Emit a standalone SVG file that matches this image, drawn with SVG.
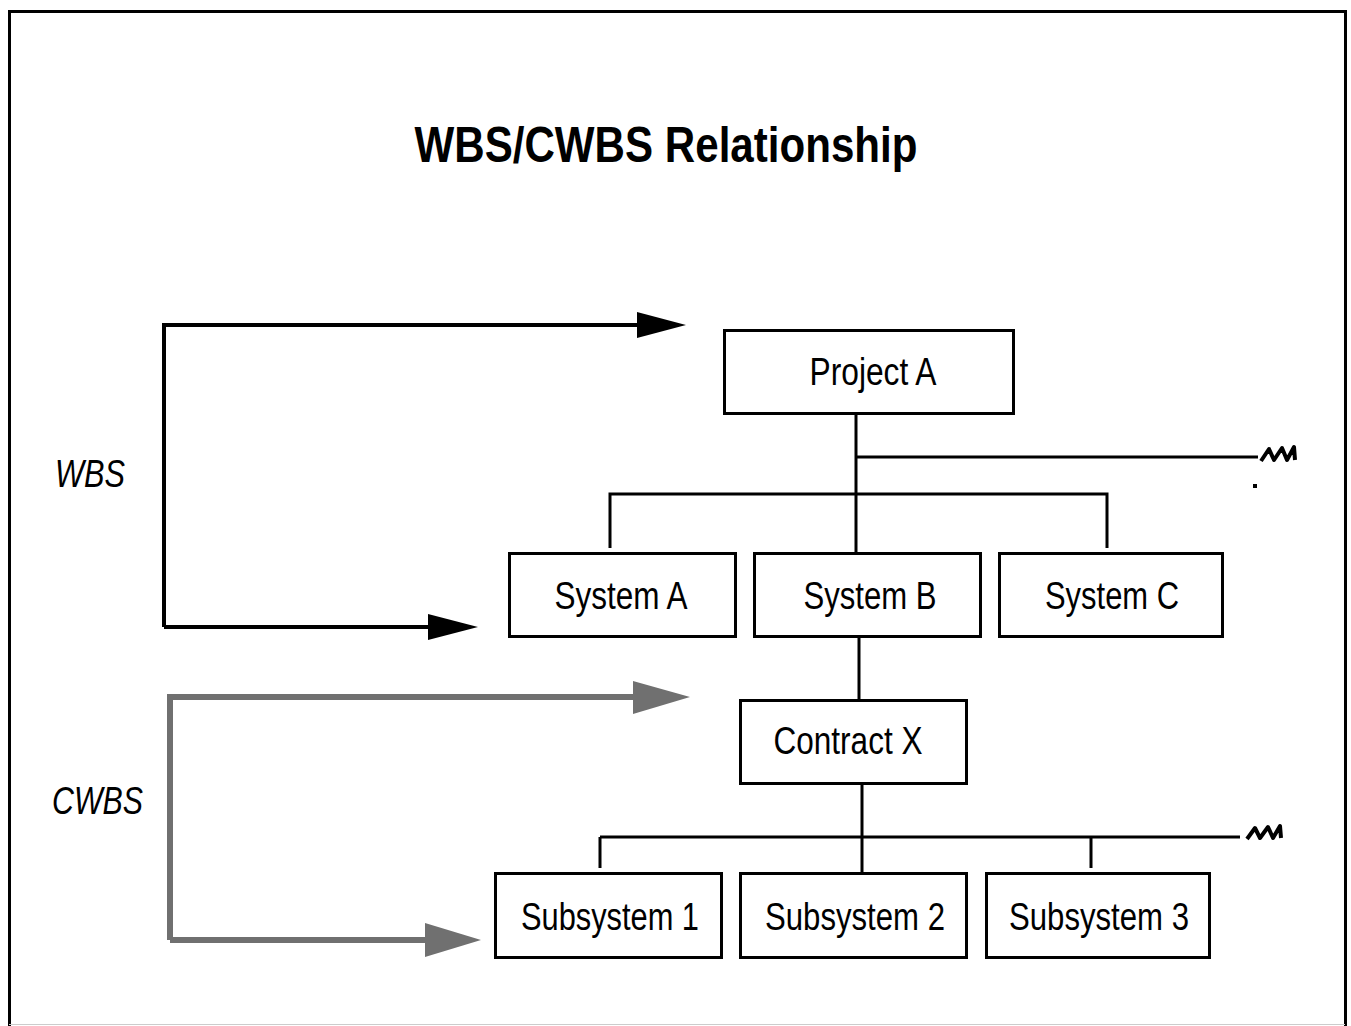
<svg xmlns="http://www.w3.org/2000/svg" width="1351" height="1026" viewBox="0 0 1351 1026">
<style>
.box{fill:#fff;stroke:#000;stroke-width:3}
.lbl{font-family:"Liberation Sans",Arial,sans-serif;font-size:38px;fill:#000;text-anchor:middle}
.side{font-family:"Liberation Sans",Arial,sans-serif;font-size:38px;font-style:italic;fill:#000}
.ln{stroke:#000;stroke-width:3;fill:none}
.zz{stroke:#000;stroke-width:4;fill:none;stroke-linejoin:round}
.blk{stroke:#000;stroke-width:4;fill:none}
.gry{stroke:#707070;stroke-width:6;fill:none}
</style>
<rect x="0" y="0" width="1351" height="1026" fill="#fff"/>
<path d="M9.5,1026 V11.5 H1345.5 V1026" fill="none" stroke="#000" stroke-width="3"/>
<line x1="9" y1="1024.5" x2="1345" y2="1024.5" stroke="#ccc" stroke-width="1"/>
<text x="666" y="162" font-family="Liberation Sans,Arial,sans-serif" font-size="50" font-weight="bold" text-anchor="middle" textLength="503" lengthAdjust="spacingAndGlyphs">WBS/CWBS Relationship</text>
<text class="side" x="55" y="487" textLength="70" lengthAdjust="spacingAndGlyphs">WBS</text>
<text class="side" x="52" y="814" textLength="91" lengthAdjust="spacingAndGlyphs">CWBS</text>
<g id="connectors">
<path class="blk" d="M164,627 V325 H640"/>
<polygon points="637,312 686,325 637,338" fill="#000"/>
<path class="blk" d="M164,627 H430"/>
<polygon points="428,614 478,627 428,640" fill="#000"/>
<path class="gry" d="M170,940 V697 H636"/>
<polygon points="633,681 690,697 633,714" fill="#707070"/>
<path class="gry" d="M170,940 H428"/>
<polygon points="425,923 481,940 425,957" fill="#707070"/>
<line class="ln" x1="856" y1="413" x2="856" y2="553"/>
<line class="ln" x1="856" y1="457" x2="1258" y2="457"/>
<polyline class="zz" points="1261,461 1269,449 1274,460 1282,448 1287,460 1294,447 1295,460"/>
<rect x="1253" y="484" width="4" height="4" fill="#000"/>
<path class="ln" d="M610,548 V494 H1107 V548"/>
<line class="ln" x1="859" y1="636" x2="859" y2="700"/>
<line class="ln" x1="862" y1="783" x2="862" y2="873"/>
<line class="ln" x1="600" y1="837" x2="1240" y2="837"/>
<polyline class="zz" points="1247,839 1255,828 1260,838 1268,827 1273,838 1280,826 1281,838"/>
<path class="ln" d="M600,837 V868 M1091,837 V868"/>
</g>
<g id="projectA"><rect class="box" x="724.5" y="330.5" width="289" height="83"/><text class="lbl" x="873" y="385" textLength="127" lengthAdjust="spacingAndGlyphs">Project A</text></g>
<g id="systemA"><rect class="box" x="509.5" y="553.5" width="226" height="83"/><text class="lbl" x="621" y="609" textLength="133" lengthAdjust="spacingAndGlyphs">System A</text></g>
<g id="systemB"><rect class="box" x="754.5" y="553.5" width="226" height="83"/><text class="lbl" x="870" y="609" textLength="133" lengthAdjust="spacingAndGlyphs">System B</text></g>
<g id="systemC"><rect class="box" x="999.5" y="553.5" width="223" height="83"/><text class="lbl" x="1112" y="609" textLength="134" lengthAdjust="spacingAndGlyphs">System C</text></g>
<g id="contractX"><rect class="box" x="740.5" y="700.5" width="226" height="83"/><text class="lbl" x="848" y="754" textLength="149" lengthAdjust="spacingAndGlyphs">Contract X</text></g>
<g id="subsystem1"><rect class="box" x="495.5" y="873.5" width="226" height="84"/><text class="lbl" x="610" y="930" textLength="178" lengthAdjust="spacingAndGlyphs">Subsystem 1</text></g>
<g id="subsystem2"><rect class="box" x="740.5" y="873.5" width="226" height="84"/><text class="lbl" x="855" y="930" textLength="180" lengthAdjust="spacingAndGlyphs">Subsystem 2</text></g>
<g id="subsystem3"><rect class="box" x="986.5" y="873.5" width="223" height="84"/><text class="lbl" x="1099" y="930" textLength="180" lengthAdjust="spacingAndGlyphs">Subsystem 3</text></g>
</svg>
